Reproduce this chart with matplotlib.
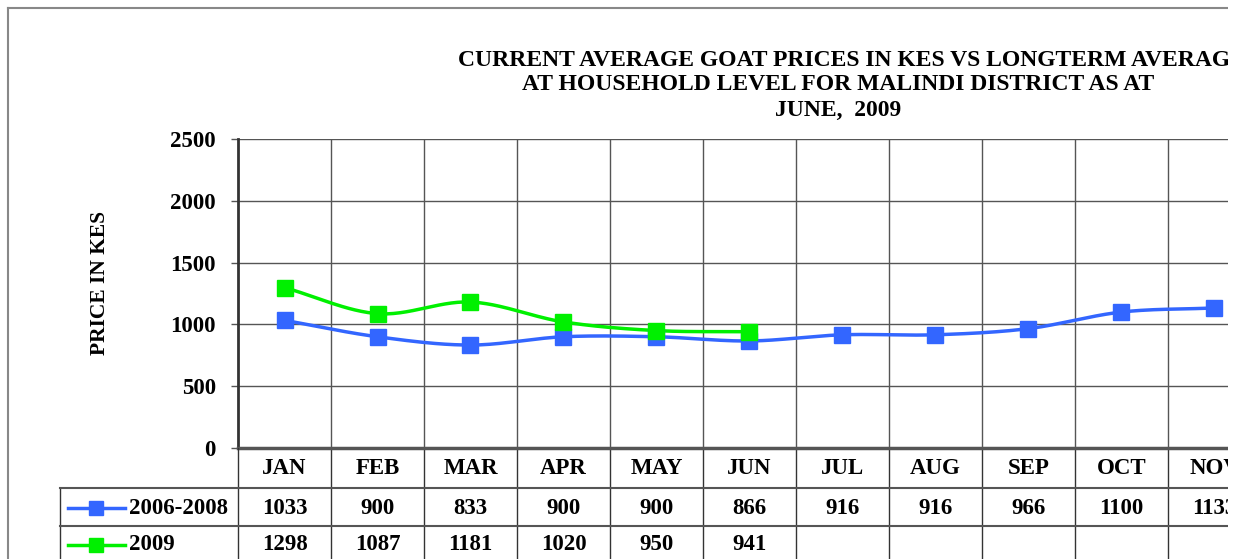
import numpy as np
import matplotlib
matplotlib.use("Agg")
import matplotlib.pyplot as plt
import matplotlib.transforms as mtransforms
from matplotlib.patches import Rectangle

months = ['JAN', 'FEB', 'MAR', 'APR', 'MAY', 'JUN', 'JUL', 'AUG', 'SEP', 'OCT', 'NOV', 'DEC']
longterm = [1033, 900, 833, 900, 900, 866, 916, 916, 966, 1100, 1133]
current = [1298, 1087, 1181, 1020, 950, 941]
series_names = ['2006-2008', '2009']
yticks = [0, 500, 1000, 1500, 2000, 2500]

blue = '#3366FF'
green = '#00F000'
font = 'Liberation Serif'
plt.rcParams['font.family'] = font
plt.rcParams['font.weight'] = 'bold'

W, H = 1239, 559
fig = plt.figure(figsize=(W / 100, H / 100), dpi=100)


def fx(px):
    return px / W


def fy(py):
    return 1 - py / H


def smooth(xs, ys, n=30):
    # catmull-rom style smoothing like excel's smoothed line
    xs = np.asarray(xs, float)
    ys = np.asarray(ys, float)
    px = np.concatenate([[2 * xs[0] - xs[1]], xs, [2 * xs[-1] - xs[-2]]])
    py = np.concatenate([[2 * ys[0] - ys[1]], ys, [2 * ys[-1] - ys[-2]]])
    outx, outy = [], []
    t = np.linspace(0, 1, n)
    for i in range(1, len(px) - 2):
        p0, p1, p2, p3 = py[i - 1], py[i], py[i + 1], py[i + 2]
        yy = 0.5 * ((2 * p1) + (-p0 + p2) * t + (2 * p0 - 5 * p1 + 4 * p2 - p3) * t ** 2
                    + (-p0 + 3 * p1 - 3 * p2 + p3) * t ** 3)
        xx = px[i] + (px[i + 1] - px[i]) * t
        outx.extend(xx)
        outy.extend(yy)
    return outx, outy


fs = 16.5
ax_left, ax_right, ax_top, ax_bot = 238, 1354, 139, 448
ax = fig.add_axes([fx(ax_left), fy(ax_bot), fx(ax_right - ax_left), (ax_bot - ax_top) / H])
ax.set_xlim(-0.5, len(months) - 0.5)
ax.set_ylim(0, 2500)

bounds = np.arange(len(months) + 1) - 0.5
ax.set_xticks(bounds[1:-1], minor=True)
ax.set_xticks([])
ax.set_yticks(yticks)
ax.set_yticklabels([str(v) for v in yticks], fontsize=fs, fontweight='bold')
ax.tick_params(axis='y', length=5, width=1, color='#555555', pad=11)
ax.tick_params(axis='x', which='both', length=0)
ax.grid(True, axis='y', color='#555555', linewidth=1)
ax.grid(True, axis='x', which='minor', color='#555555', linewidth=1)
for s in ['top', 'right']:
    ax.spines[s].set_visible(False)
ax.spines['left'].set_linewidth(2)
ax.spines['left'].set_color('#333333')
ax.spines['bottom'].set_linewidth(2.5)
ax.spines['bottom'].set_color('#555555')
ax.set_axisbelow(True)

x1 = np.arange(len(longterm))
x2 = np.arange(len(current))
sx, sy = smooth(x1, longterm)
ax.plot(sx, sy, color=blue, linewidth=2.5, zorder=3)
ax.plot(x1, longterm, 's', color=blue, markersize=12, zorder=4)
sx, sy = smooth(x2, current)
ax.plot(sx, sy, color=green, linewidth=2.5, zorder=3)
ax.plot(x2, current, 's', color=green, markersize=12, zorder=4)

# data table below the axes
blend = mtransforms.blended_transform_factory(ax.transData, fig.transFigure)
row_header = fy(468)
row1 = fy(508)
row2 = fy(545)
for i, m in enumerate(months):
    ax.text(i, row_header, m, transform=blend, ha='center', va='center', fontsize=fs,
            fontweight='bold', clip_on=False)
for i, v in enumerate(longterm):
    ax.text(i, row1, str(v), transform=blend, ha='center', va='center', fontsize=fs,
            fontweight='bold', clip_on=False)
for i, v in enumerate(current):
    ax.text(i, row2, str(v), transform=blend, ha='center', va='center', fontsize=fs,
            fontweight='bold', clip_on=False)
for b in bounds[1:]:
    ax.plot([b, b], [fy(ax_bot), 0], transform=blend, color='#333333', linewidth=1,
            clip_on=False)

# table lines in figure coords
fig.add_artist(plt.Line2D([fx(ax_left), fx(ax_left)], [fy(ax_bot), 0], color='#333333', lw=1))
fig.add_artist(plt.Line2D([fx(60), fx(60)], [fy(488), 0], color='#333333', lw=1))
fig.add_artist(plt.Line2D([fx(60), 1], [fy(488), fy(488)], color='#555555', lw=1.5))
fig.add_artist(plt.Line2D([fx(60), 1], [fy(526), fy(526)], color='#555555', lw=1.5))

# legend keys inside the table
for name, col, py in [(series_names[0], blue, 508), (series_names[1], green, 545)]:
    fig.add_artist(plt.Line2D([fx(68), fx(125)], [fy(py), fy(py)], color=col, lw=2.5))
    fig.add_artist(plt.Line2D([fx(96)], [fy(py)], marker='s', color=col, markersize=10))
    fig.text(fx(129), fy(py), name, ha='left', va='center', fontsize=fs, fontweight='bold')

fig.text(fx(100), fy(283), 'PRICE IN KES', rotation=90, ha='center', va='center',
         fontsize=15.5, fontweight='bold')

tfs = 17
fig.text(fx(458), fy(60), 'CURRENT AVERAGE GOAT PRICES IN KES VS LONGTERM AVERAGE',
         ha='left', va='center', fontsize=tfs, fontweight='bold')
fig.text(fx(838), fy(85), 'AT HOUSEHOLD LEVEL FOR MALINDI DISTRICT AS AT',
         ha='center', va='center', fontsize=tfs, fontweight='bold')
fig.text(fx(838), fy(110), 'JUNE,  2009', ha='center', va='center', fontsize=tfs,
         fontweight='bold')

# outer chart border (top and left visible)
fig.add_artist(plt.Line2D([fx(8), fx(8)], [fy(8), 0], color='#888888', lw=1.5))
fig.add_artist(plt.Line2D([fx(8), fx(1228)], [fy(8), fy(8)], color='#888888', lw=1.5))

# the chart is cut off on the right
fig.add_artist(Rectangle((fx(1228), 0), 1 - fx(1228), 1, transform=fig.transFigure,
                         facecolor='white', edgecolor='none', zorder=100))

fig.savefig('out.png', dpi=100)
